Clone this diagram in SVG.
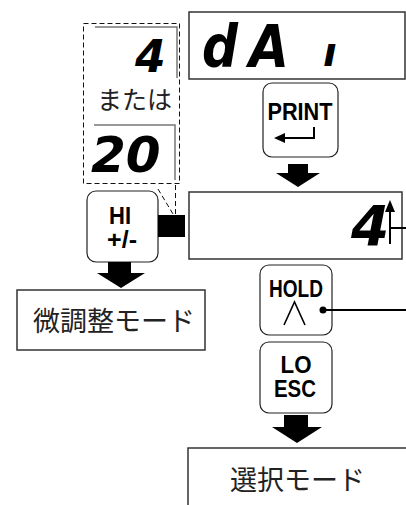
<svg xmlns="http://www.w3.org/2000/svg" width="406" height="505" viewBox="0 0 406 505">
<style>
.box{fill:#fff;stroke:#333;stroke-width:1.5}
.key{fill:#fff;stroke:#222;stroke-width:1.2}
.part{fill:none;stroke:#777;stroke-width:1.5}
.dash{fill:none;stroke:#111;stroke-width:1;stroke-dasharray:5,3}
.kt{font-family:"Liberation Sans",Arial,sans-serif;font-weight:bold;font-size:23px;text-anchor:middle;fill:#000}
.seg{font-family:"DejaVu Sans",sans-serif;font-weight:bold;font-style:italic;fill:#000}
.jp{font-family:"Noto Sans CJK JP",sans-serif;font-size:27px;fill:#222}
.arr{fill:#000}
.ln{fill:none;stroke:#000;stroke-width:2}
</style>
<rect width="406" height="505" fill="#fff"/>

<g id="callout">
  <rect class="dash" x="83.5" y="23.5" width="96" height="160"/>
  <line class="dash" x1="158" y1="189" x2="173" y2="214"/>
  <line class="dash" x1="175.5" y1="185" x2="175.5" y2="214"/>
  <path class="part" d="M95,27 H177 V78"/>
  <text class="seg" x="135" y="72" font-size="44">4</text>
  <text x="97" y="109" font-family="Noto Sans CJK JP,sans-serif" font-size="25" fill="#222">または</text>
  <path class="part" d="M94,125 H175 V180"/>
  <text class="seg" x="91" y="172" font-size="50">20</text>
</g>

<g id="display1">
  <rect class="box" x="189" y="12" width="216" height="67"/>
  <text class="seg" x="202" y="67" font-size="58" textLength="36" lengthAdjust="spacingAndGlyphs">d</text>
  <text class="seg" x="249" y="67" font-size="58" textLength="40" lengthAdjust="spacingAndGlyphs">A</text>
  <text class="seg" x="323" y="66" font-size="40">ı</text>
</g>

<g id="key-print">
  <rect class="key" x="263" y="83" width="75" height="74" rx="9"/>
  <text class="kt" x="300" y="120" textLength="65" lengthAdjust="spacingAndGlyphs">PRINT</text>
  <path class="ln" d="M283,138 H314 V127"/>
  <polygon class="arr" points="274,138 285,133 285,143"/>
</g>

<g id="display2">
  <rect class="box" x="189" y="192" width="213" height="67"/>
  <text class="seg" x="351" y="245" font-size="55">4</text>
</g>

<g id="key-hi">
  <rect class="key" x="87" y="191" width="71" height="71" rx="9"/>
  <text class="kt" x="120" y="224" font-size="18" textLength="22" lengthAdjust="spacingAndGlyphs">HI</text>
  <text class="kt" x="122" y="248" font-size="18" textLength="30" lengthAdjust="spacingAndGlyphs">+/-</text>
</g>

<g id="indicator">
  <rect x="158" y="215" width="27" height="22" fill="#000"/>
</g>

<g id="mode-fine">
  <rect class="box" x="17" y="290" width="188" height="60"/>
  <text class="jp" x="33" y="331">微調整モード</text>
</g>

<g id="key-hold">
  <rect class="key" x="260" y="265" width="72" height="70" rx="9"/>
  <text class="kt" x="296" y="297" textLength="54" lengthAdjust="spacingAndGlyphs">HOLD</text>
  <polyline points="284,325 294.5,302 305,325" fill="none" stroke="#000" stroke-width="1.6"/>
  <circle cx="323" cy="310" r="3.5" fill="#000"/>
</g>

<g id="key-lo">
  <rect class="key" x="260" y="342" width="72" height="71" rx="9"/>
  <text class="kt" x="296" y="373" font-size="19" textLength="31" lengthAdjust="spacingAndGlyphs">LO</text>
  <text class="kt" x="295" y="397" font-size="19" textLength="42" lengthAdjust="spacingAndGlyphs">ESC</text>
</g>

<g id="mode-select">
  <rect class="box" x="188" y="448" width="230" height="70"/>
  <text class="jp" x="230" y="490">選択モード</text>
</g>

<g id="connectors">
  <polygon class="arr" points="288,164 308,164 308,173 320,173 298,187 276,173 288,173"/>
  <polygon class="arr" points="108,262 131,262 131,273 145,273 121,288 97,273 108,273"/>
  <polygon class="arr" points="284,415 308,415 308,427 322,427 297,443 272,427 284,427"/>
  <line class="ln" x1="390" y1="244" x2="390" y2="210"/>
  <polygon class="arr" points="390,200 385,212 395,212"/>
  <line class="ln" x1="390" y1="228" x2="406" y2="228"/>
  <line class="ln" x1="323" y1="310" x2="406" y2="310"/>
</g>
</svg>
